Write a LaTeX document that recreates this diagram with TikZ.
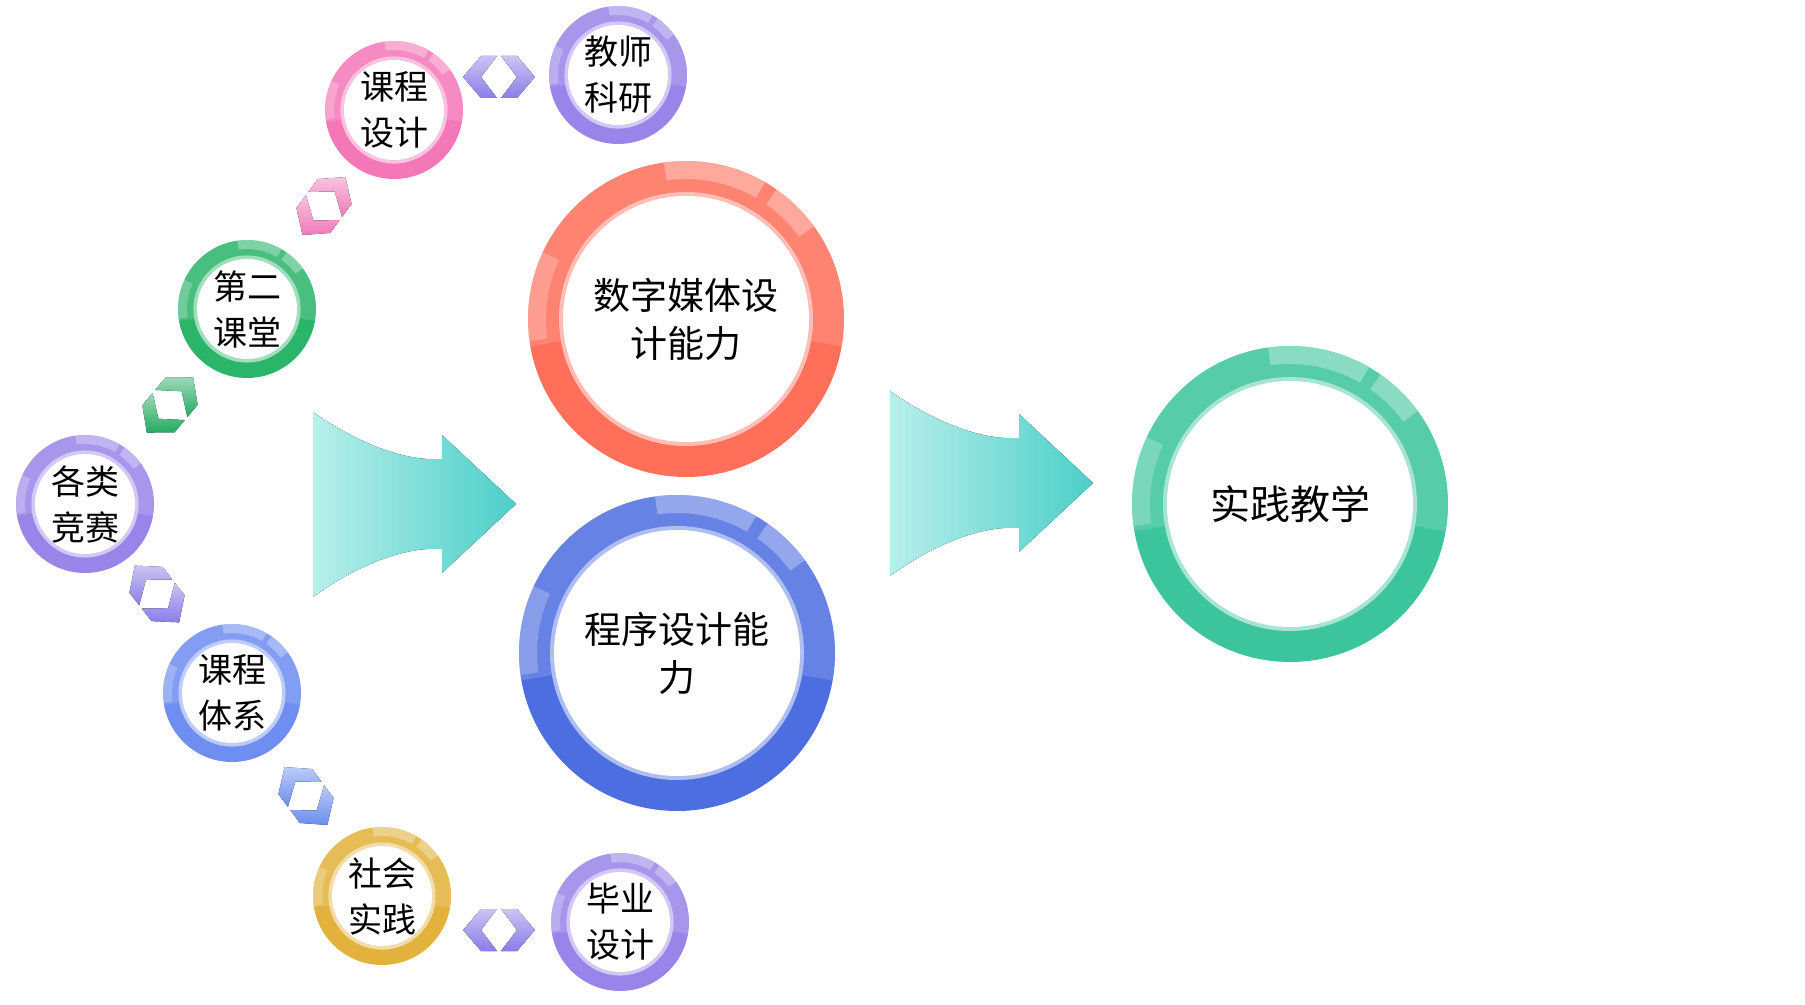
\documentclass[tikz,border=0pt]{standalone}
\usepackage{fontspec}
\setmainfont{Noto Sans CJK SC}
\usetikzlibrary{calc,positioning}
\definecolor{ringpink}{HTML}{F478B8}
\definecolor{ringviolet}{HTML}{9985EA}
\definecolor{ringgreen}{HTML}{2BB56A}
\definecolor{ringblue}{HTML}{6E8EF2}
\definecolor{ringgold}{HTML}{E2B23C}
\definecolor{bigred}{HTML}{FF6F5A}
\definecolor{bigblue}{HTML}{4D6EE0}
\definecolor{bigteal}{HTML}{3CC49C}
\definecolor{linkviolet}{HTML}{8A7DE8}
\definecolor{linkpink}{HTML}{F07AB8}
\definecolor{linkgreen}{HTML}{25AA60}
\definecolor{linkblue}{HTML}{6A8CF0}
\definecolor{arrowlight}{HTML}{B8EFEB}
\definecolor{arrowdark}{HTML}{4CCFC8}
% glossy ring: colour, outer radius, light edge, white radius, highlight edge
\newcommand{\ringgloss}[5]{%
  \coordinate (rc) at (path picture bounding box.center);
  \fill[white, opacity=0.14] (rc) -- ($(rc)+(190:#2)$) arc[start angle=190, end angle=-10, radius=#2] -- cycle;
  \fill[white, opacity=0.3] ($(rc)+(60:#2)$) arc[start angle=60, end angle=98, radius=#2] -- ($(rc)+(98:#5)$) arc[start angle=98, end angle=60, radius=#5] -- cycle;
  \fill[white, opacity=0.3] ($(rc)+(36:#2)$) arc[start angle=36, end angle=55, radius=#2] -- ($(rc)+(55:#5)$) arc[start angle=55, end angle=36, radius=#5] -- cycle;
  \fill[white, opacity=0.22] ($(rc)+(155:#2)$) arc[start angle=155, end angle=188, radius=#2] -- ($(rc)+(188:#5)$) arc[start angle=188, end angle=155, radius=#5] -- cycle;
  \fill[#1!45!white] (rc) circle (#3);
  \fill[white] (rc) circle (#4);}
\tikzset{
  smallring/.style={
    circle,
    inner sep=0pt,
    minimum size=69pt,
    fill=#1,
    align=center,
    font=\fontsize{17}{23}\selectfont,
    path picture={\ringgloss{#1}{34.5pt}{26.8pt}{25pt}{30pt}}
  },
  bigring/.style={
    circle,
    inner sep=0pt,
    minimum size=158pt,
    fill=#1,
    align=center,
    font=\fontsize{18.5}{24}\selectfont,
    path picture={\ringgloss{#1}{79pt}{63.5pt}{61.5pt}{70pt}}
  },
  linkpart/.style={
    top color=#1!45!white,
    bottom color=#1
  },
  flowarrow/.style={
    left color=arrowlight,
    right color=arrowdark
  },
  pics/linkpair/.style={code={
    \fill[linkpart=#1] (-36,0) -- (-18,-21) -- (-2,-21) -- (-18,0) -- (-2,21) -- (-18,21) -- cycle;
    \fill[linkpart=#1] (36,0) -- (18,-21) -- (2,-21) -- (18,0) -- (2,21) -- (18,21) -- cycle;
  }}
}

\begin{document}
\begin{tikzpicture}[x=0.5pt, y=-0.5pt]
    \path[use as bounding box, fill=white] (0,0) rectangle (1805,1005);

    % block arrows
    \foreach \dx/\dy in {0/0, 577/-21}{
        \fill[flowarrow, shift={(\dx,\dy)}] (313,412) .. controls (350,438) and (400,462) .. (442,459)
            -- (442,435) -- (516,504) -- (442,573) -- (442,549)
            .. controls (400,546) and (350,570) .. (313,597) -- cycle;
    }

    % small rings
    \node[smallring=ringpink] (coursedesign) at (394,110) {课程\\设计};
    \node[smallring=ringviolet] (research) at (618,75) {教师\\科研};
    \node[smallring=ringgreen] (secondclass) at (247,309) {第二\\课堂};
    \node[smallring=ringviolet] (contest) at (85,504) {各类\\竞赛};
    \node[smallring=ringblue] (curriculum) at (232,693) {课程\\体系};
    \node[smallring=ringgold] (social) at (382,896) {社会\\实践};
    \node[smallring=ringviolet] (thesis) at (620,922) {毕业\\设计};

    % big rings
    \node[bigring=bigred] (media) at (686,319) {数字媒体设\\计能力};
    \node[bigring=bigblue] (program) at (677,653) {程序设计能\\力};
    \node[bigring=bigteal, font=\fontsize{20}{24}\selectfont] (practice) at (1290,504) {实践教学};

    % links between rings
    \pic at (499,77) {linkpair=linkviolet};
    \pic[rotate=53.5] at (324,206) {linkpair=linkpink};
    \pic[rotate=50] at (170,405) {linkpair=linkgreen};
    \pic[rotate=-52] at (157,594) {linkpair=linkviolet};
    \pic[rotate=-53.5] at (306,796) {linkpair=linkblue};
    \pic at (499,930) {linkpair=linkviolet};
\end{tikzpicture}
\end{document}
